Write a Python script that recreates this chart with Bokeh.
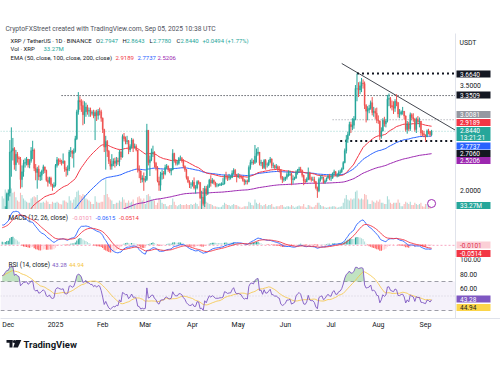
import numpy as np
import pandas as pd
from bokeh.plotting import figure
from bokeh.layouts import column
from bokeh.models import Range1d, FixedTicker, Span, ColumnDataSource
from bokeh.core.properties import value
from bokeh.embed import file_html
from bokeh.resources import INLINE

# ---------------- data ----------------
FIRST_DAY = "2024-11-27"
FIRST_OPEN = 1.39

CLOSE_NOV = [1.47, 1.52, 1.73, 1.95]
HIGH_NOV = [1.50, 1.56, 1.78, 1.97]
LOW_NOV = [1.35, 1.44, 1.50, 1.72]
VOL_NOV = [600, 500, 900, 800]

CLOSE_DEC = [1.97, 2.55, 2.57, 2.60, 2.37, 2.52, 2.47, 2.45, 2.16, 2.27, 2.39, 2.40, 2.45, 2.37, 2.43, 2.57, 2.58, 2.32, 2.26, 2.31, 2.20, 2.22, 2.28, 2.34, 2.29, 2.15, 2.12, 2.18, 2.09, 2.06, 2.08]
HIGH_DEC = [2.02, 2.72, 2.90, 2.75, 2.62, 2.58, 2.55, 2.49, 2.48, 2.36, 2.44, 2.46, 2.48, 2.45, 2.45, 2.62, 2.71, 2.60, 2.38, 2.34, 2.36, 2.27, 2.30, 2.37, 2.34, 2.30, 2.20, 2.20, 2.20, 2.10, 2.12]
LOW_DEC = [1.86, 1.92, 2.20, 2.43, 2.30, 2.28, 2.40, 2.37, 2.03, 2.05, 2.20, 2.33, 2.36, 2.33, 2.32, 2.40, 2.45, 2.28, 2.15, 2.03, 2.15, 2.14, 2.15, 2.24, 2.25, 2.13, 2.06, 2.10, 2.06, 2.00, 2.04]
VOL_DEC = [700, 1000, 950, 750, 800, 550, 400, 350, 750, 650, 500, 400, 350, 300, 300, 500, 550, 600, 550, 650, 400, 300, 300, 350, 300, 400, 350, 250, 250, 350, 300]

CLOSE_JAN = [2.36, 2.44, 2.43, 2.41, 2.40, 2.42, 2.31, 2.29, 2.31, 2.55, 2.56, 2.53, 2.56, 2.74, 3.12, 3.28, 3.26, 3.21, 3.08, 3.12, 3.19, 3.13, 3.14, 3.10, 3.11, 3.06, 3.11, 3.07, 3.13, 3.12, 3.03]
HIGH_JAN = [2.38, 2.48, 2.46, 2.46, 2.44, 2.53, 2.43, 2.34, 2.36, 2.58, 2.62, 2.58, 2.60, 2.78, 3.15, 3.40, 3.34, 3.30, 3.28, 3.27, 3.25, 3.22, 3.18, 3.18, 3.14, 3.15, 3.14, 3.15, 3.16, 3.18, 3.15]
LOW_JAN = [2.06, 2.33, 2.36, 2.38, 2.36, 2.38, 2.27, 2.20, 2.22, 2.28, 2.48, 2.46, 2.33, 2.54, 2.72, 3.08, 3.15, 3.12, 2.93, 2.95, 3.05, 3.08, 3.05, 3.05, 3.07, 3.03, 2.72, 2.99, 3.01, 3.07, 2.98]
VOL_JAN = [300, 350, 300, 250, 220, 400, 400, 350, 300, 600, 400, 300, 450, 550, 800, 850, 650, 600, 700, 650, 500, 450, 400, 350, 250, 250, 600, 350, 300, 300, 350]

CLOSE_FEB = [2.87, 2.62, 2.70, 2.56, 2.42, 2.35, 2.38, 2.42, 2.39, 2.43, 2.41, 2.55, 2.48, 2.77, 2.74, 2.70, 2.71, 2.58, 2.63, 2.72, 2.62, 2.63, 2.58, 2.30, 2.28, 2.16, 2.18, 2.15]
HIGH_FEB = [3.04, 2.88, 2.78, 2.72, 2.58, 2.45, 2.52, 2.46, 2.47, 2.48, 2.47, 2.58, 2.57, 2.80, 2.82, 2.77, 2.78, 2.72, 2.66, 2.75, 2.74, 2.67, 2.66, 2.58, 2.36, 2.29, 2.22, 2.26]
LOW_FEB = [2.82, 2.55, 2.30, 2.48, 2.38, 2.30, 2.30, 2.35, 2.33, 2.35, 2.37, 2.35, 2.44, 2.47, 2.70, 2.66, 2.66, 2.52, 2.55, 2.60, 2.55, 2.60, 2.56, 2.26, 2.18, 2.11, 2.12, 2.00]
VOL_FEB = [350, 650, 1350, 700, 550, 450, 400, 250, 250, 300, 300, 400, 350, 550, 450, 300, 300, 400, 300, 350, 450, 250, 200, 550, 600, 500, 400, 500]

CLOSE_MAR = [2.16, 2.86, 2.40, 2.44, 2.54, 2.55, 2.39, 2.33, 2.14, 2.08, 2.23, 2.25, 2.24, 2.33, 2.35, 2.30, 2.28, 2.30, 2.53, 2.43, 2.39, 2.39, 2.46, 2.46, 2.43, 2.35, 2.30, 2.19, 2.13, 2.09, 2.09]
HIGH_MAR = [2.21, 2.95, 2.86, 2.50, 2.60, 2.64, 2.56, 2.41, 2.35, 2.20, 2.27, 2.30, 2.28, 2.37, 2.38, 2.36, 2.32, 2.32, 2.59, 2.54, 2.45, 2.43, 2.48, 2.50, 2.48, 2.45, 2.36, 2.31, 2.21, 2.15, 2.12]
LOW_MAR = [2.12, 2.14, 2.36, 2.21, 2.42, 2.48, 2.33, 2.29, 2.12, 2.00, 2.00, 2.16, 2.17, 2.22, 2.31, 2.27, 2.25, 2.22, 2.29, 2.40, 2.36, 2.36, 2.37, 2.43, 2.40, 2.32, 2.27, 2.16, 2.11, 2.04, 2.03]
VOL_MAR = [250, 650, 700, 600, 450, 400, 400, 200, 300, 500, 450, 300, 250, 250, 150, 150, 200, 200, 500, 350, 200, 150, 200, 250, 200, 200, 200, 250, 200, 200, 250]

CLOSE_APR = [2.12, 2.04, 2.04, 2.13, 2.12, 1.90, 1.91, 1.82, 2.03, 1.96, 2.06, 2.15, 2.11, 2.15, 2.12, 2.08, 2.08, 2.08, 2.09, 2.09, 2.10, 2.21, 2.20, 2.18, 2.19, 2.19, 2.25, 2.29, 2.23, 2.20]
HIGH_APR = [2.15, 2.19, 2.08, 2.15, 2.15, 2.12, 2.00, 2.04, 2.07, 2.07, 2.09, 2.17, 2.22, 2.18, 2.16, 2.13, 2.11, 2.10, 2.11, 2.12, 2.18, 2.23, 2.27, 2.22, 2.24, 2.22, 2.29, 2.32, 2.31, 2.24]
LOW_APR = [2.06, 2.02, 1.96, 2.02, 2.09, 1.88, 1.61, 1.79, 1.77, 1.93, 1.94, 2.04, 2.06, 2.10, 2.09, 2.05, 2.05, 2.06, 2.07, 2.07, 2.08, 2.09, 2.16, 2.14, 2.15, 2.16, 2.18, 2.23, 2.20, 2.12]
VOL_APR = [200, 250, 300, 250, 150, 400, 650, 450, 550, 350, 300, 250, 250, 200, 150, 150, 120, 100, 100, 120, 200, 300, 250, 200, 200, 150, 200, 250, 200, 200]

CLOSE_MAY = [2.21, 2.20, 2.19, 2.15, 2.13, 2.14, 2.13, 2.33, 2.40, 2.41, 2.40, 2.49, 2.53, 2.55, 2.39, 2.40, 2.33, 2.43, 2.37, 2.37, 2.41, 2.45, 2.36, 2.36, 2.33, 2.34, 2.31, 2.30, 2.19, 2.16, 2.17]
HIGH_MAY = [2.25, 2.24, 2.22, 2.20, 2.17, 2.16, 2.16, 2.36, 2.44, 2.46, 2.44, 2.65, 2.60, 2.62, 2.55, 2.44, 2.41, 2.45, 2.45, 2.40, 2.44, 2.48, 2.46, 2.40, 2.37, 2.38, 2.36, 2.35, 2.30, 2.21, 2.20]
LOW_MAY = [2.18, 2.17, 2.17, 2.13, 2.08, 2.09, 2.09, 2.12, 2.30, 2.37, 2.37, 2.38, 2.40, 2.50, 2.36, 2.35, 2.31, 2.31, 2.30, 2.33, 2.35, 2.39, 2.32, 2.32, 2.30, 2.31, 2.27, 2.26, 2.16, 2.11, 2.13]
VOL_MAY = [150, 120, 80, 100, 150, 150, 150, 350, 300, 200, 180, 450, 300, 250, 300, 200, 150, 200, 250, 150, 200, 200, 250, 120, 100, 150, 150, 150, 200, 200, 120]

CLOSE_JUN = [2.19, 2.23, 2.23, 2.24, 2.16, 2.17, 2.18, 2.26, 2.29, 2.31, 2.29, 2.22, 2.14, 2.13, 2.16, 2.25, 2.17, 2.16, 2.16, 2.13, 2.04, 2.00, 2.16, 2.18, 2.19, 2.12, 2.14, 2.18, 2.21, 2.18]
HIGH_JUN = [2.20, 2.26, 2.29, 2.28, 2.26, 2.22, 2.20, 2.29, 2.31, 2.34, 2.34, 2.30, 2.23, 2.17, 2.19, 2.33, 2.27, 2.20, 2.20, 2.20, 2.14, 2.06, 2.19, 2.22, 2.22, 2.20, 2.16, 2.19, 2.23, 2.24]
LOW_JUN = [2.14, 2.16, 2.20, 2.21, 2.08, 2.10, 2.15, 2.17, 2.23, 2.27, 2.26, 2.19, 2.08, 2.11, 2.12, 2.15, 2.15, 2.13, 2.14, 2.10, 2.02, 1.90, 1.98, 2.13, 2.16, 2.10, 2.10, 2.13, 2.17, 2.15]
VOL_JUN = [100, 150, 150, 120, 200, 150, 80, 120, 150, 180, 150, 150, 250, 100, 80, 200, 180, 120, 100, 120, 200, 300, 300, 200, 150, 150, 100, 80, 100, 120]

CLOSE_JUL = [2.18, 2.25, 2.27, 2.22, 2.22, 2.26, 2.27, 2.31, 2.40, 2.57, 2.73, 2.80, 2.94, 2.91, 2.93, 3.02, 3.45, 3.45, 3.43, 3.49, 3.53, 3.52, 3.21, 3.13, 3.15, 3.17, 3.25, 3.11, 3.13, 3.10, 3.00]
HIGH_JUL = [2.24, 2.26, 2.30, 2.28, 2.25, 2.29, 2.30, 2.33, 2.42, 2.60, 2.79, 2.84, 2.98, 2.98, 3.03, 3.06, 3.50, 3.664, 3.54, 3.55, 3.60, 3.58, 3.55, 3.23, 3.20, 3.22, 3.28, 3.33, 3.19, 3.17, 3.18]
LOW_JUL = [2.14, 2.17, 2.22, 2.21, 2.19, 2.20, 2.23, 2.25, 2.30, 2.39, 2.53, 2.68, 2.78, 2.82, 2.86, 2.88, 3.00, 3.27, 3.33, 3.37, 3.40, 3.45, 3.16, 2.97, 3.00, 3.10, 3.15, 3.07, 3.05, 3.02, 2.96]
VOL_JUL = [120, 150, 150, 120, 80, 100, 120, 150, 300, 500, 650, 450, 400, 500, 450, 500, 800, 850, 500, 450, 500, 450, 700, 650, 450, 250, 250, 400, 350, 300, 400]

CLOSE_AUG = [2.99, 2.77, 2.85, 3.00, 2.95, 2.99, 3.30, 3.31, 3.21, 3.19, 3.17, 3.27, 3.25, 3.09, 3.09, 3.12, 3.13, 3.06, 2.87, 2.95, 2.88, 3.08, 3.04, 3.02, 2.87, 3.01, 2.98, 2.99, 2.82, 2.81, 2.79]
HIGH_AUG = [3.07, 3.00, 2.90, 3.03, 3.05, 3.02, 3.36, 3.38, 3.33, 3.28, 3.27, 3.30, 3.37, 3.26, 3.16, 3.14, 3.19, 3.13, 3.07, 2.99, 2.98, 3.11, 3.10, 3.10, 3.03, 3.04, 3.06, 3.04, 2.99, 2.86, 2.85]
LOW_AUG = [2.95, 2.72, 2.74, 2.84, 2.91, 2.90, 2.97, 3.20, 3.17, 3.14, 3.09, 3.12, 3.20, 3.04, 3.03, 3.07, 3.08, 3.01, 2.84, 2.81, 2.85, 2.85, 3.00, 2.98, 2.84, 2.82, 2.96, 2.90, 2.78, 2.77, 2.76]
VOL_AUG = [350, 450, 300, 300, 250, 250, 600, 450, 300, 250, 300, 300, 300, 450, 300, 150, 150, 250, 350, 300, 250, 350, 200, 200, 300, 250, 200, 250, 300, 150, 120]

CLOSE_SEP = [2.77, 2.85, 2.84, 2.7946, 2.8440]
HIGH_SEP = [2.80, 2.87, 2.88, 2.85, 2.8643]
LOW_SEP = [2.70, 2.76, 2.80, 2.77, 2.7780]
VOL_SEP = [250, 250, 180, 200, 33.27]

# indicator states on 2024-11-26 (day before the first candle)
EMA_SEEDS = {50: 1.06, 100: 0.78, 200: 0.71}
MACD_SEEDS = (1.25, 0.98, 0.22)      # EMA12, EMA26, signal
RSI_SEEDS = (0.065, 0.020)           # average gain, average loss

# drawn levels and trend line
LEVEL_PRICES = [3.6640, 3.3509, 3.0081, 2.7060]
LEVEL_STARTS = ["2025-07-18", "2025-01-05", "2025-07-02", "2025-07-07"]
TREND_DATES = ["2025-07-08", "2025-09-21"]
TREND_PRICES = [3.806, 2.855]
EVENT_DATES = ["2025-09-05"]

TICK_DATES = ["2024-12-01", "2025-01-01", "2025-02-01", "2025-03-01", "2025-04-01",
              "2025-05-01", "2025-06-01", "2025-07-01", "2025-08-01", "2025-09-01"]
TICK_LABELS = ["Dec", "2025", "Feb", "Mar", "Apr", "May", "Jun", "Jul", "Aug", "Sep"]
PRICE_TICKS = [2.0, 3.5]
RSI_TICKS = [60, 80, 100]

# value tags on the scales
PRICE_TAGS = ["3.6640", "3.3509", "3.0081", "2.9189", "2.8440", "13:21:21", "2.7737", "2.7060", "2.5206", "33.27M"]
MACD_TAGS = ["-0.0101", "-0.0514"]
RSI_TAGS = ["43.28", "44.94"]

# ---------------- series ----------------
close = np.array(CLOSE_NOV + CLOSE_DEC + CLOSE_JAN + CLOSE_FEB + CLOSE_MAR + CLOSE_APR + CLOSE_MAY + CLOSE_JUN + CLOSE_JUL + CLOSE_AUG + CLOSE_SEP)
high = np.array(HIGH_NOV + HIGH_DEC + HIGH_JAN + HIGH_FEB + HIGH_MAR + HIGH_APR + HIGH_MAY + HIGH_JUN + HIGH_JUL + HIGH_AUG + HIGH_SEP)
low = np.array(LOW_NOV + LOW_DEC + LOW_JAN + LOW_FEB + LOW_MAR + LOW_APR + LOW_MAY + LOW_JUN + LOW_JUL + LOW_AUG + LOW_SEP)
vol = np.array(VOL_NOV + VOL_DEC + VOL_JAN + VOL_FEB + VOL_MAR + VOL_APR + VOL_MAY + VOL_JUN + VOL_JUL + VOL_AUG + VOL_SEP)
opn = np.r_[FIRST_OPEN, close[:-1]]

T0 = pd.Timestamp("2025-01-01")
dates = pd.date_range(FIRST_DAY, periods=len(close), freq="D")
day = np.asarray((dates - T0).days, dtype=float)


def dd(s):
    return float((pd.Timestamp(s) - T0).days)


def ema(vals, n, seed):
    a = 2.0 / (n + 1)
    e = seed
    out = []
    for v in vals:
        e = e + a * (v - e)
        out.append(e)
    return np.array(out)


ema50 = ema(close, 50, EMA_SEEDS[50])
ema100 = ema(close, 100, EMA_SEEDS[100])
ema200 = ema(close, 200, EMA_SEEDS[200])

macd = ema(close, 12, MACD_SEEDS[0]) - ema(close, 26, MACD_SEEDS[1])
signal = ema(macd, 9, MACD_SEEDS[2])
hist = macd - signal
prev_h = np.r_[hist[0], hist[:-1]]
hist_col = np.where(hist >= 0, np.where(hist >= prev_h, "#26a69a", "#b2dfdb"),
                    np.where(hist < prev_h, "#ff5252", "#ffcdd2"))

ag, al = RSI_SEEDS
prev = FIRST_OPEN
rsi = []
for c in close:
    ch = c - prev
    ag = (ag * 13 + max(ch, 0.0)) / 14
    al = (al * 13 + max(-ch, 0.0)) / 14
    rsi.append(100 - 100 / (1 + ag / al))
    prev = c
rsi = np.array(rsi)
rsi_ma = pd.Series(rsi).rolling(14, min_periods=1).mean().to_numpy()

ccol = np.where(close >= opn, "#26a69a", "#ef5350")

src = ColumnDataSource(dict(day=day, o=opn, h=high, l=low, c=close, v=vol, col=ccol,
                            e50=ema50, e100=ema100, e200=ema200,
                            macd=macd, sig=signal, hist=hist, hcol=hist_col,
                            rsi=rsi, rsima=rsi_ma, ob=np.maximum(rsi, 70.0)))

# ---------------- layout calibration (reference pixels) ----------------
PX_JAN1, PX_DAY = 55.0, 1.5226


def xd(px):
    return (px - PX_JAN1) / PX_DAY


def yp(py):
    return 3.664 - (py - 73) / 70.5


def ym(py):
    return -(py - 244) / 73.0


def yr(py):
    return 70 - (py - 281) / 0.725


FONT = "Roboto"
DARK = "#131722"
TEAL, RED, BLUE, PURPLE = "#26a69a", "#f23645", "#2962ff", "#9c27b0"
RSI_COL, MA_COL = "#7e57c2", "#f5c542"
SCALE_X = xd(455)
xr = Range1d(xd(0), xd(500))


def pane(height, yrange, bottom=0, xaxis=False):
    f = figure(width=500, height=height, x_range=xr, y_range=yrange,
               output_backend="svg", toolbar_location=None,
               x_axis_location="below" if xaxis else None, y_axis_location=None,
               min_border_left=0, min_border_right=0, min_border_top=0,
               min_border_bottom=bottom, outline_line_color=None,
               background_fill_color="white", border_fill_color="white")
    f.grid.visible = False
    return f


def write(f, pxs, ys, texts, colors, size="6.2px", style="normal", align="left"):
    f.text(x=[xd(p) for p in pxs], y=ys, text=texts, text_color=colors,
           text_font=value(FONT), text_font_size=size, text_font_style=style,
           text_baseline="middle", text_align=align)


def tags(f, ys, texts, bgs, fgs, h=7):
    f.rect(x=[xd(473)] * len(ys), y=ys, width=34, height=h, width_units="screen",
           height_units="screen", fill_color=bgs, line_color=None)
    write(f, [459.5] * len(ys), ys, texts, fgs, size="6.5px")


# ---------------- price pane ----------------
p = pane(209, Range1d(yp(209), yp(0)))
p.extra_y_ranges = {"vol": Range1d(0, 209 * 45)}
p.vbar(x="day", top="v", bottom=0, width=0.7, fill_color="col", line_color=None,
       fill_alpha=0.4, y_range_name="vol", source=src)

p.segment(x0=xd(0), x1=SCALE_X, y0=close[-1], y1=close[-1], line_color=TEAL,
          line_alpha=0.6, line_width=0.8, line_dash="1 2")
lvl_width = [2, 1, 1, 2]
lvl_color = [DARK, DARK, "#9598a1", DARK]
lvl_dash = ["2 3", "1 2", "1 2", "2 3"]
for pr, st, w, c, ds in zip(LEVEL_PRICES, LEVEL_STARTS, lvl_width, lvl_color, lvl_dash):
    p.segment(x0=dd(st), x1=SCALE_X, y0=pr, y1=pr, line_color=c, line_width=w, line_dash=ds)
p.line(x=[dd(s) for s in TREND_DATES], y=TREND_PRICES, line_color=DARK, line_width=0.8)

p.line("day", "e200", source=src, line_color=PURPLE, line_width=1)
p.line("day", "e100", source=src, line_color=BLUE, line_width=1)
p.line("day", "e50", source=src, line_color=RED, line_width=1)

p.segment(x0="day", x1="day", y0="l", y1="h", line_color="col", line_width=1, source=src)
p.vbar(x="day", top="o", bottom="c", width=0.75, fill_color="col", line_color="col",
       line_width=0.3, source=src)

p.scatter(x=[dd(s) for s in EVENT_DATES], y=[yp(203)], marker="circle", size=8,
          fill_color="white", line_color=PURPLE, line_width=1)

# price scale column
p.segment(x0=SCALE_X, x1=SCALE_X, y0=yp(33), y1=yp(209), line_color="#e0e3eb", line_width=1)
write(p, [459.5] * len(PRICE_TICKS), PRICE_TICKS, ["%.4f" % t for t in PRICE_TICKS], DARK, size="6.8px")
tags(p, [yp(73.5), yp(94.5), yp(114), yp(122)], PRICE_TAGS[0:4],
     [DARK, DARK, "#9598a1", RED], "white")
tags(p, [yp(133.5)], [""], [TEAL], "white", h=14)
write(p, [459.5, 459.5], [yp(130), yp(137)], PRICE_TAGS[4:6], "white", size="6.5px")
tags(p, [yp(145.5), yp(153), yp(160), yp(205)], PRICE_TAGS[6:10],
     [BLUE, DARK, PURPLE, TEAL], "white")
write(p, [459], [yp(42)], ["USDT"], DARK, size="6.8px")

# header
write(p, [5], [yp(28)], ["CryptoFXStreet created with TradingView.com, Sep 05, 2025 10:38 UTC"], "#50535e", size="6.7px")
write(p, [10, 95.5, 99.5, 122, 126, 149, 152.5, 176, 180, 202],
      [yp(40)] * 10,
      ["XRP / TetherUS · 1D · BINANCE", "O", "2.7947", "H", "2.8643", "L", "2.7780",
       "C", "2.8440", "+0.0494 (+1.77%)"],
      [DARK, DARK, TEAL, DARK, TEAL, DARK, TEAL, DARK, TEAL, TEAL], size="5.9px")
write(p, [10, 43], [yp(48)] * 2, ["Vol · XRP", "33.27M"], [DARK, TEAL], size="6px")
write(p, [10, 115, 137, 157], [yp(57)] * 4,
      ["EMA (50, close, 100, close, 200, close)", "2.9189", "2.7737", "2.5206"],
      [DARK, RED, BLUE, PURPLE], size="6px")

# ---------------- MACD pane ----------------
m = pane(48, Range1d(ym(257), ym(209)))
m.vbar(x="day", top="hist", bottom=0, width=0.7, fill_color="hcol", line_color=None, source=src)
m.segment(x0=xd(0), x1=SCALE_X, y0=float(hist[-1]), y1=float(hist[-1]),
          line_color="#f48fb1", line_dash="2 2", line_width=0.8)
m.line("day", "macd", source=src, line_color=BLUE, line_width=0.9)
m.line("day", "sig", source=src, line_color=RED, line_width=0.9)
m.add_layout(Span(location=SCALE_X, dimension="height", line_color="#e0e3eb", line_width=1))
write(m, [8], [ym(217)], ["MACD (12, 26, close)"], DARK, size="6.4px")
write(m, [72, 95, 118.5], [ym(217)] * 3, ["-0.0101", "-0.0615", "-0.0514"],
      ["#f48fb1", BLUE, RED], size="5.9px")
tags(m, [ym(244.5), ym(253)], MACD_TAGS, ["#fbcfd6", RED], ["#e0304e", "white"])

# ---------------- RSI pane ----------------
r = pane(75, Range1d(yr(318), yr(257)), bottom=14, xaxis=True)
xa = r.xaxis[0]
xa.ticker = FixedTicker(ticks=[dd(s) for s in TICK_DATES])
xa.major_label_overrides = {dd(s): lab for s, lab in zip(TICK_DATES, TICK_LABELS)}
xa.axis_line_color = "#e0e3eb"
xa.major_tick_line_color = None
xa.minor_tick_line_color = None
xa.major_tick_out = 0
xa.major_label_text_font_size = "7px"
xa.major_label_text_font = FONT
xa.major_label_text_color = DARK
xa.major_label_standoff = 2

r.quad(left=xd(0), right=SCALE_X, bottom=30, top=70, fill_color=RSI_COL, fill_alpha=0.08, line_color=None)
for lv, a_, ds in [(70, 0.9, "4 3"), (50, 0.35, "1 2"), (30, 0.9, "4 3")]:
    r.segment(x0=xd(0), x1=SCALE_X, y0=lv, y1=lv, line_color="#787b86", line_alpha=a_,
              line_dash=ds, line_width=0.8)
r.varea(x="day", y1=70, y2="ob", source=src, fill_color="#4caf50", fill_alpha=0.35)
r.line("day", "rsima", source=src, line_color=MA_COL, line_alpha=0.9, line_width=0.9)
r.line("day", "rsi", source=src, line_color=RSI_COL, line_width=0.9)
r.add_layout(Span(location=SCALE_X, dimension="height", line_color="#e0e3eb", line_width=1))
write(r, [8], [yr(264)], ["RSI (14, close)"], DARK, size="6.5px")
write(r, [51.5, 68.5], [yr(264)] * 2, ["43.28", "44.94"], [RSI_COL, MA_COL], size="5.9px")
write(r, [459.5] * len(RSI_TICKS), RSI_TICKS, ["%.2f" % t for t in RSI_TICKS], DARK, size="6.8px")
tags(r, [yr(298.5), yr(307)], RSI_TAGS, [RSI_COL, "#fbd54a"], ["white", DARK])

# ---------------- footer with logo ----------------
ft = figure(width=500, height=48, x_range=Range1d(0, 500), y_range=Range1d(380, 332),
            output_backend="svg", toolbar_location=None, x_axis_location=None,
            y_axis_location=None, min_border_left=0, min_border_right=0, min_border_top=0,
            min_border_bottom=0, outline_line_color=None)
ft.grid.visible = False
ft.quad(left=[6, 9], right=[12, 12], top=[339.5, 339.5], bottom=[342.3, 347], fill_color=DARK, line_color=None)
ft.scatter(x=[13.9], y=[341], size=3.2, marker="circle", fill_color=DARK, line_color=None)
ft.patch(x=[15.2, 20.8, 17.4, 12.8], y=[339.5, 339.5, 347, 347], fill_color=DARK, line_color=None)
ft.text(x=[23], y=[343.5], text=["TradingView"], text_font=value(FONT), text_font_size="9.5px",
        text_font_style="bold", text_color=DARK, text_baseline="middle", text_align="left")

layout = column(p, m, r, ft, spacing=0)
open("out.html", "w").write(file_html(layout, INLINE))
